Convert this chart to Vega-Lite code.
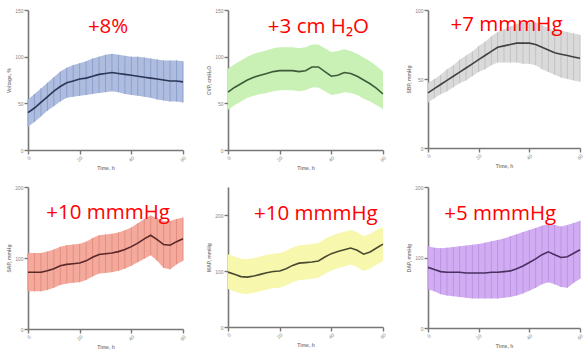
{
  "$schema": "https://vega.github.io/schema/vega-lite/v6.json",
  "padding": {"left": 6, "top": 8, "right": 2, "bottom": 2},
  "background": "white",
  "bounds": "flush",
  "columns": 3,
  "spacing": {"row": 37, "column": 45},
  "config": {
    "view": {"stroke": null},
    "axis": {"grid": false, "domainColor": "#777", "domainWidth": 1.6, "tickColor": "#777", "tickWidth": 1.4, "tickSize": 4, "labelFontSize": 5, "labelColor": "#888", "titleFontSize": 5, "titleColor": "#888", "titleFontWeight": "bold", "labelFont": "Liberation Sans", "titleFont": "Liberation Sans", "labelPadding": 1, "titlePadding": 3, "labelOverlap": false},
    "axisX": {"labelAngle": -45, "values": [0, 10, 20, 30, 40, 50, 60]}
  },
  "datasets": {
    "series": [
      {"p":1,"t":0,"m":40,"lo":25,"hi":54},{"p":1,"t":2.5,"m":45,"lo":30,"hi":60},{"p":1,"t":5,"m":51,"lo":36,"hi":66},{"p":1,"t":7.5,"m":57,"lo":42,"hi":72},{"p":1,"t":10,"m":63,"lo":47,"hi":78},{"p":1,"t":12.5,"m":68,"lo":52,"hi":84},{"p":1,"t":15,"m":72,"lo":56,"hi":88},{"p":1,"t":17.5,"m":74,"lo":57,"hi":91},{"p":1,"t":20,"m":76,"lo":58,"hi":93},{"p":1,"t":22.5,"m":77,"lo":59,"hi":95},{"p":1,"t":25,"m":79,"lo":60,"hi":98},{"p":1,"t":27.5,"m":81,"lo":61,"hi":100},{"p":1,"t":30,"m":82,"lo":62,"hi":102},{"p":1,"t":32.5,"m":83,"lo":63,"hi":103},{"p":1,"t":35,"m":82,"lo":62,"hi":102},{"p":1,"t":37.5,"m":81,"lo":60,"hi":101},{"p":1,"t":40,"m":80,"lo":59,"hi":100},{"p":1,"t":42.5,"m":79,"lo":58,"hi":100},{"p":1,"t":45,"m":78,"lo":57,"hi":99},{"p":1,"t":47.5,"m":77,"lo":56,"hi":98},{"p":1,"t":50,"m":76,"lo":54,"hi":97},{"p":1,"t":52.5,"m":75,"lo":53,"hi":96},{"p":1,"t":55,"m":74,"lo":52,"hi":96},{"p":1,"t":57.5,"m":74,"lo":52,"hi":96},{"p":1,"t":60,"m":73,"lo":51,"hi":95},
      {"p":2,"t":0,"m":62,"lo":43,"hi":87},{"p":2,"t":2.5,"m":67,"lo":48,"hi":92},{"p":2,"t":5,"m":71,"lo":52,"hi":96},{"p":2,"t":7.5,"m":75,"lo":56,"hi":100},{"p":2,"t":10,"m":78,"lo":58,"hi":103},{"p":2,"t":12.5,"m":80,"lo":60,"hi":105},{"p":2,"t":15,"m":82,"lo":61,"hi":107},{"p":2,"t":17.5,"m":84,"lo":63,"hi":109},{"p":2,"t":20,"m":85,"lo":64,"hi":110},{"p":2,"t":22.5,"m":85,"lo":64,"hi":110},{"p":2,"t":25,"m":85,"lo":64,"hi":110},{"p":2,"t":27.5,"m":84,"lo":63,"hi":109},{"p":2,"t":30,"m":85,"lo":64,"hi":110},{"p":2,"t":32.5,"m":89,"lo":67,"hi":113},{"p":2,"t":35,"m":89,"lo":67,"hi":113},{"p":2,"t":37.5,"m":84,"lo":63,"hi":109},{"p":2,"t":40,"m":79,"lo":59,"hi":105},{"p":2,"t":42.5,"m":80,"lo":60,"hi":106},{"p":2,"t":45,"m":83,"lo":62,"hi":108},{"p":2,"t":47.5,"m":82,"lo":61,"hi":106},{"p":2,"t":50,"m":79,"lo":59,"hi":103},{"p":2,"t":52.5,"m":75,"lo":55,"hi":99},{"p":2,"t":55,"m":71,"lo":52,"hi":95},{"p":2,"t":57.5,"m":66,"lo":48,"hi":90},{"p":2,"t":60,"m":60,"lo":44,"hi":84},
      {"p":3,"t":0,"m":40,"lo":33,"hi":47},{"p":3,"t":2.5,"m":43,"lo":36,"hi":50},{"p":3,"t":5,"m":46,"lo":39,"hi":53},{"p":3,"t":7.5,"m":49,"lo":41,"hi":57},{"p":3,"t":10,"m":52,"lo":44,"hi":60},{"p":3,"t":12.5,"m":55,"lo":47,"hi":64},{"p":3,"t":15,"m":58,"lo":49,"hi":67},{"p":3,"t":17.5,"m":61,"lo":52,"hi":70},{"p":3,"t":20,"m":64,"lo":55,"hi":74},{"p":3,"t":22.5,"m":67,"lo":57,"hi":77},{"p":3,"t":25,"m":70,"lo":60,"hi":81},{"p":3,"t":27.5,"m":73,"lo":62,"hi":84},{"p":3,"t":30,"m":74,"lo":62,"hi":86},{"p":3,"t":32.5,"m":75,"lo":62,"hi":88},{"p":3,"t":35,"m":76,"lo":62,"hi":90},{"p":3,"t":37.5,"m":76,"lo":61,"hi":91},{"p":3,"t":40,"m":76,"lo":61,"hi":91},{"p":3,"t":42.5,"m":75,"lo":60,"hi":91},{"p":3,"t":45,"m":73,"lo":57,"hi":89},{"p":3,"t":47.5,"m":71,"lo":55,"hi":87},{"p":3,"t":50,"m":69,"lo":53,"hi":85},{"p":3,"t":52.5,"m":68,"lo":51,"hi":85},{"p":3,"t":55,"m":67,"lo":50,"hi":84},{"p":3,"t":57.5,"m":66,"lo":49,"hi":83},{"p":3,"t":60,"m":65,"lo":48,"hi":82},
      {"p":4,"t":0,"m":80,"lo":53,"hi":107},{"p":4,"t":2.5,"m":80,"lo":53,"hi":107},{"p":4,"t":5,"m":80,"lo":53,"hi":107},{"p":4,"t":7.5,"m":82,"lo":55,"hi":109},{"p":4,"t":10,"m":85,"lo":58,"hi":112},{"p":4,"t":12.5,"m":89,"lo":62,"hi":116},{"p":4,"t":15,"m":91,"lo":64,"hi":118},{"p":4,"t":17.5,"m":92,"lo":65,"hi":119},{"p":4,"t":20,"m":93,"lo":66,"hi":120},{"p":4,"t":22.5,"m":96,"lo":69,"hi":123},{"p":4,"t":25,"m":101,"lo":74,"hi":128},{"p":4,"t":27.5,"m":105,"lo":78,"hi":132},{"p":4,"t":30,"m":106,"lo":79,"hi":133},{"p":4,"t":32.5,"m":107,"lo":80,"hi":134},{"p":4,"t":35,"m":109,"lo":82,"hi":136},{"p":4,"t":37.5,"m":112,"lo":85,"hi":139},{"p":4,"t":40,"m":116,"lo":89,"hi":143},{"p":4,"t":42.5,"m":121,"lo":94,"hi":149},{"p":4,"t":45,"m":127,"lo":99,"hi":155},{"p":4,"t":47.5,"m":132,"lo":104,"hi":160},{"p":4,"t":50,"m":126,"lo":96,"hi":156},{"p":4,"t":52.5,"m":119,"lo":86,"hi":152},{"p":4,"t":55,"m":118,"lo":84,"hi":152},{"p":4,"t":57.5,"m":123,"lo":91,"hi":155},{"p":4,"t":60,"m":127,"lo":96,"hi":157},
      {"p":5,"t":0,"m":98,"lo":68,"hi":130},{"p":5,"t":2.5,"m":94,"lo":64,"hi":126},{"p":5,"t":5,"m":90,"lo":60,"hi":122},{"p":5,"t":7.5,"m":89,"lo":59,"hi":121},{"p":5,"t":10,"m":91,"lo":61,"hi":123},{"p":5,"t":12.5,"m":94,"lo":64,"hi":126},{"p":5,"t":15,"m":97,"lo":67,"hi":129},{"p":5,"t":17.5,"m":99,"lo":69,"hi":131},{"p":5,"t":20,"m":100,"lo":70,"hi":132},{"p":5,"t":22.5,"m":104,"lo":74,"hi":136},{"p":5,"t":25,"m":110,"lo":80,"hi":142},{"p":5,"t":27.5,"m":114,"lo":84,"hi":146},{"p":5,"t":30,"m":115,"lo":85,"hi":147},{"p":5,"t":32.5,"m":116,"lo":86,"hi":148},{"p":5,"t":35,"m":118,"lo":88,"hi":150},{"p":5,"t":37.5,"m":125,"lo":95,"hi":157},{"p":5,"t":40,"m":131,"lo":101,"hi":163},{"p":5,"t":42.5,"m":135,"lo":105,"hi":167},{"p":5,"t":45,"m":138,"lo":108,"hi":170},{"p":5,"t":47.5,"m":141,"lo":111,"hi":173},{"p":5,"t":50,"m":137,"lo":107,"hi":169},{"p":5,"t":52.5,"m":130,"lo":100,"hi":162},{"p":5,"t":55,"m":134,"lo":104,"hi":166},{"p":5,"t":57.5,"m":141,"lo":111,"hi":173},{"p":5,"t":60,"m":148,"lo":118,"hi":178},
      {"p":6,"t":0,"m":86,"lo":55,"hi":116},{"p":6,"t":2.5,"m":83,"lo":52,"hi":114},{"p":6,"t":5,"m":80,"lo":48,"hi":113},{"p":6,"t":7.5,"m":79,"lo":46,"hi":114},{"p":6,"t":10,"m":79,"lo":45,"hi":115},{"p":6,"t":12.5,"m":79,"lo":44,"hi":116},{"p":6,"t":15,"m":78,"lo":43,"hi":117},{"p":6,"t":17.5,"m":78,"lo":42,"hi":118},{"p":6,"t":20,"m":78,"lo":42,"hi":119},{"p":6,"t":22.5,"m":78,"lo":42,"hi":121},{"p":6,"t":25,"m":79,"lo":42,"hi":123},{"p":6,"t":27.5,"m":79,"lo":42,"hi":125},{"p":6,"t":30,"m":80,"lo":43,"hi":127},{"p":6,"t":32.5,"m":81,"lo":44,"hi":130},{"p":6,"t":35,"m":84,"lo":46,"hi":133},{"p":6,"t":37.5,"m":88,"lo":49,"hi":136},{"p":6,"t":40,"m":93,"lo":53,"hi":139},{"p":6,"t":42.5,"m":98,"lo":57,"hi":142},{"p":6,"t":45,"m":104,"lo":62,"hi":145},{"p":6,"t":47.5,"m":108,"lo":65,"hi":147},{"p":6,"t":50,"m":104,"lo":62,"hi":146},{"p":6,"t":52.5,"m":100,"lo":58,"hi":144},{"p":6,"t":55,"m":101,"lo":57,"hi":146},{"p":6,"t":57.5,"m":106,"lo":64,"hi":149},{"p":6,"t":60,"m":111,"lo":70,"hi":152}
    ],
    "notes": [
      {"p":1,"t":31,"v":132,"label":"+8%"},
      {"p":2,"t":35,"v":132,"label":"+3 cm H₂O"},
      {"p":3,"t":31,"v":89,"label":"+7 mmmHg"},
      {"p":4,"t":31,"v":163,"label":"+10 mmmHg"},
      {"p":5,"t":34,"v":202,"label":"+10 mmmHg"},
      {"p":6,"t":28.5,"v":162,"label":"+5 mmmHg"}
    ]
  },
  "concat": [
      {"width": 155, "height": 140, "layer": [
        {"data": {"name": "series"}, "transform": [{"filter": "datum.p == 1"}], "mark": {"type": "area", "color": "#aebddf", "opacity": 1}, "encoding": {"x": {"field": "t", "type": "quantitative", "scale": {"domain": [0, 60], "nice": false}, "axis": {"title": "Time, h"}}, "y": {"field": "lo", "type": "quantitative", "scale": {"domain": [0, 150], "nice": false}, "axis": {"title": "Voltage, %", "values": [0, 50, 100, 150]}}, "y2": {"field": "hi"}}},
        {"data": {"name": "series"}, "transform": [{"filter": "datum.p == 1"}], "mark": {"type": "rule", "color": "#8d9fcc", "strokeWidth": 1}, "encoding": {"x": {"field": "t", "type": "quantitative"}, "y": {"field": "lo", "type": "quantitative"}, "y2": {"field": "hi"}}},
        {"data": {"name": "series"}, "transform": [{"filter": "datum.p == 1"}], "mark": {"type": "line", "color": "#2c3656", "strokeWidth": 1.6}, "encoding": {"x": {"field": "t", "type": "quantitative"}, "y": {"field": "m", "type": "quantitative"}}},
        {"data": {"name": "notes"}, "transform": [{"filter": "datum.p == 1"}], "mark": {"type": "text", "color": "#ff0000", "fontSize": 20.5, "font": "Open Sans", "baseline": "middle", "align": "center"}, "encoding": {"x": {"field": "t", "type": "quantitative"}, "y": {"field": "v", "type": "quantitative"}, "text": {"field": "label"}}}
      ]},
      {"width": 155, "height": 140, "layer": [
        {"data": {"name": "series"}, "transform": [{"filter": "datum.p == 2"}], "mark": {"type": "area", "color": "#c9f1b6", "opacity": 1}, "encoding": {"x": {"field": "t", "type": "quantitative", "scale": {"domain": [0, 60], "nice": false}, "axis": {"title": "Time, h"}}, "y": {"field": "lo", "type": "quantitative", "scale": {"domain": [0, 150], "nice": false}, "axis": {"title": "CVP, cmH₂O", "values": [0, 50, 100, 150]}}, "y2": {"field": "hi"}}},
        {"data": {"name": "series"}, "transform": [{"filter": "datum.p == 2"}], "mark": {"type": "line", "color": "#3e5a3a", "strokeWidth": 1.6}, "encoding": {"x": {"field": "t", "type": "quantitative"}, "y": {"field": "m", "type": "quantitative"}}},
        {"data": {"name": "notes"}, "transform": [{"filter": "datum.p == 2"}], "mark": {"type": "text", "color": "#ff0000", "fontSize": 20.5, "font": "Open Sans", "baseline": "middle", "align": "center"}, "encoding": {"x": {"field": "t", "type": "quantitative"}, "y": {"field": "v", "type": "quantitative"}, "text": {"field": "label"}}}
      ]},
      {"width": 152, "height": 138, "layer": [
        {"data": {"name": "series"}, "transform": [{"filter": "datum.p == 3"}], "mark": {"type": "area", "color": "#dadada", "opacity": 1}, "encoding": {"x": {"field": "t", "type": "quantitative", "scale": {"domain": [0, 60], "nice": false}, "axis": {"title": "Time, h"}}, "y": {"field": "lo", "type": "quantitative", "scale": {"domain": [0, 100], "nice": false}, "axis": {"title": "SBP, mmHg", "values": [0, 25, 50, 75, 100]}}, "y2": {"field": "hi"}}},
        {"data": {"name": "series"}, "transform": [{"filter": "datum.p == 3"}], "mark": {"type": "rule", "color": "#c2c2c2", "strokeWidth": 1}, "encoding": {"x": {"field": "t", "type": "quantitative"}, "y": {"field": "lo", "type": "quantitative"}, "y2": {"field": "hi"}}},
        {"data": {"name": "series"}, "transform": [{"filter": "datum.p == 3"}], "mark": {"type": "line", "color": "#404040", "strokeWidth": 1.6}, "encoding": {"x": {"field": "t", "type": "quantitative"}, "y": {"field": "m", "type": "quantitative"}}},
        {"data": {"name": "notes"}, "transform": [{"filter": "datum.p == 3"}], "mark": {"type": "text", "color": "#ff0000", "fontSize": 20.5, "font": "Open Sans", "baseline": "middle", "align": "center"}, "encoding": {"x": {"field": "t", "type": "quantitative"}, "y": {"field": "v", "type": "quantitative"}, "text": {"field": "label"}}}
      ]},
      {"width": 155, "height": 142, "layer": [
        {"data": {"name": "series"}, "transform": [{"filter": "datum.p == 4"}], "mark": {"type": "area", "color": "#f3aa9c", "opacity": 1}, "encoding": {"x": {"field": "t", "type": "quantitative", "scale": {"domain": [0, 60], "nice": false}, "axis": {"title": "Time, h"}}, "y": {"field": "lo", "type": "quantitative", "scale": {"domain": [0, 200], "nice": false}, "axis": {"title": "SAP, mmHg", "values": [0, 50, 100, 150, 200]}}, "y2": {"field": "hi"}}},
        {"data": {"name": "series"}, "transform": [{"filter": "datum.p == 4"}], "mark": {"type": "rule", "color": "#e58d7e", "strokeWidth": 1}, "encoding": {"x": {"field": "t", "type": "quantitative"}, "y": {"field": "lo", "type": "quantitative"}, "y2": {"field": "hi"}}},
        {"data": {"name": "series"}, "transform": [{"filter": "datum.p == 4"}], "mark": {"type": "line", "color": "#5a2828", "strokeWidth": 1.6}, "encoding": {"x": {"field": "t", "type": "quantitative"}, "y": {"field": "m", "type": "quantitative"}}},
        {"data": {"name": "notes"}, "transform": [{"filter": "datum.p == 4"}], "mark": {"type": "text", "color": "#ff0000", "fontSize": 20.5, "font": "Open Sans", "baseline": "middle", "align": "center"}, "encoding": {"x": {"field": "t", "type": "quantitative"}, "y": {"field": "v", "type": "quantitative"}, "text": {"field": "label"}}}
      ]},
      {"width": 155, "height": 140, "layer": [
        {"data": {"name": "series"}, "transform": [{"filter": "datum.p == 5"}], "mark": {"type": "area", "color": "#f7f7ae", "opacity": 1}, "encoding": {"x": {"field": "t", "type": "quantitative", "scale": {"domain": [0, 60], "nice": false}, "axis": {"title": "Time, h"}}, "y": {"field": "lo", "type": "quantitative", "scale": {"domain": [0, 250], "nice": false}, "axis": {"title": "MAP, mmHg", "values": [0, 50, 100, 150, 200, 250]}}, "y2": {"field": "hi"}}},
        {"data": {"name": "series"}, "transform": [{"filter": "datum.p == 5"}], "mark": {"type": "line", "color": "#4a4a30", "strokeWidth": 1.6}, "encoding": {"x": {"field": "t", "type": "quantitative"}, "y": {"field": "m", "type": "quantitative"}}},
        {"data": {"name": "notes"}, "transform": [{"filter": "datum.p == 5"}], "mark": {"type": "text", "color": "#ff0000", "fontSize": 20.5, "font": "Open Sans", "baseline": "middle", "align": "center"}, "encoding": {"x": {"field": "t", "type": "quantitative"}, "y": {"field": "v", "type": "quantitative"}, "text": {"field": "label"}}}
      ]},
      {"width": 152, "height": 141, "layer": [
        {"data": {"name": "series"}, "transform": [{"filter": "datum.p == 6"}], "mark": {"type": "area", "color": "#d2acf3", "opacity": 1}, "encoding": {"x": {"field": "t", "type": "quantitative", "scale": {"domain": [0, 60], "nice": false}, "axis": {"title": "Time, h"}}, "y": {"field": "lo", "type": "quantitative", "scale": {"domain": [0, 200], "nice": false}, "axis": {"title": "DAP, mmHg", "values": [0, 50, 100, 150, 200]}}, "y2": {"field": "hi"}}},
        {"data": {"name": "series"}, "transform": [{"filter": "datum.p == 6"}], "mark": {"type": "rule", "color": "#bb94e2", "strokeWidth": 1}, "encoding": {"x": {"field": "t", "type": "quantitative"}, "y": {"field": "lo", "type": "quantitative"}, "y2": {"field": "hi"}}},
        {"data": {"name": "series"}, "transform": [{"filter": "datum.p == 6"}], "mark": {"type": "line", "color": "#4a3060", "strokeWidth": 1.6}, "encoding": {"x": {"field": "t", "type": "quantitative"}, "y": {"field": "m", "type": "quantitative"}}},
        {"data": {"name": "notes"}, "transform": [{"filter": "datum.p == 6"}], "mark": {"type": "text", "color": "#ff0000", "fontSize": 20.5, "font": "Open Sans", "baseline": "middle", "align": "center"}, "encoding": {"x": {"field": "t", "type": "quantitative"}, "y": {"field": "v", "type": "quantitative"}, "text": {"field": "label"}}}
      ]}
  ]
}
